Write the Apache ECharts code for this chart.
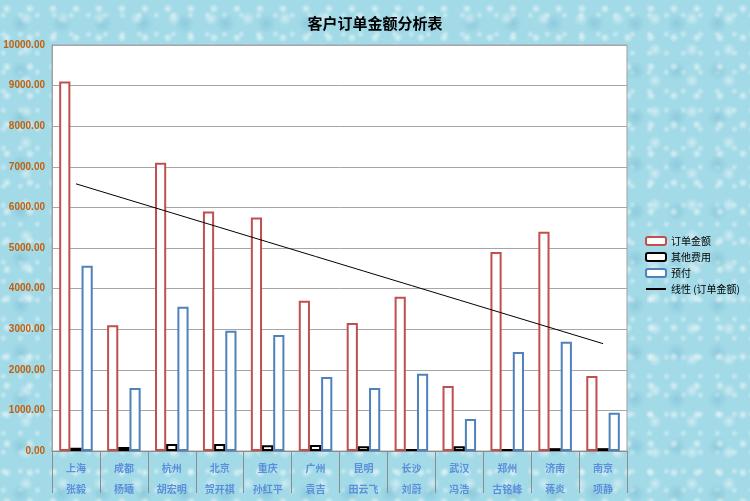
<!DOCTYPE html>
<html>
<head>
<meta charset="utf-8">
<script src="https://cdn.jsdelivr.net/npm/echarts@6/dist/echarts.min.js"></script>
<style>
html,body{margin:0;padding:0;}
body{
  width:750px;height:501px;overflow:hidden;
  background-color:#A3DAE7;
  background-image:
    radial-gradient(circle at 30% 30%, rgba(255,255,255,0.55) 0, rgba(255,255,255,0) 5px),
    radial-gradient(circle at 70% 60%, rgba(255,255,255,0.45) 0, rgba(255,255,255,0) 7px),
    radial-gradient(circle at 50% 50%, rgba(110,180,205,0.4) 0, rgba(110,180,205,0) 10px),
    radial-gradient(circle at 20% 80%, rgba(255,255,255,0.4) 0, rgba(255,255,255,0) 4px);
  background-size:23px 29px, 37px 31px, 41px 47px, 17px 19px;
}
#c{width:750px;height:501px;}
</style>
</head>
<body>
<div id="c"></div>
<script>
var cities = ['上海','成都','杭州','北京','重庆','广州','昆明','长沙','武汉','郑州','济南','南京'];
var names  = ['张毅','杨曦','胡宏明','贺开祺','孙红平','袁吉','田云飞','刘蔚','冯浩','古铭峰','蒋炎','项静'];
var orderAmount = [9100, 3100, 7100, 5900, 5750, 3700, 3150, 3800, 1600, 4900, 5400, 1850];
var otherCost   = [80, 100, 170, 170, 140, 150, 120, 50, 120, 50, 70, 70];
var prepay      = [4560, 1550, 3550, 2960, 2860, 1820, 1550, 1900, 790, 2440, 2690, 940];
var yTicks = {min: 0, max: 10000, interval: 1000};

// linear trendline of order amount (least squares)
var n = orderAmount.length, sx = 0, sy = 0, sxy = 0, sxx = 0;
for (var i = 0; i < n; i++) { var x = i + 1; sx += x; sy += orderAmount[i]; sxy += x * orderAmount[i]; sxx += x * x; }
var slope = (n * sxy - sx * sy) / (n * sxx - sx * sx);
var icpt = (sy - slope * sx) / n;
var trend = orderAmount.map(function (v, i) { return +(icpt + slope * (i + 1)).toFixed(2); });

var cats = cities.map(function (c, i) { return c + '\n' + names[i]; });

var chart = echarts.init(document.getElementById('c'));
chart.setOption({
  backgroundColor: 'transparent',
  animation: false,
  title: {
    text: '客户订单金额分析表',
    left: 'center', top: 11,
    textStyle: {fontFamily: 'Noto Sans CJK SC', fontSize: 15, fontWeight: 'bold', color: '#000'}
  },
  legend: {
    orient: 'vertical',
    left: 640, top: 231,
    itemWidth: 20, itemHeight: 8, itemGap: 6,
    textStyle: {fontFamily: 'Noto Sans CJK SC', fontSize: 10, color: '#000'},
    data: ['订单金额', '其他费用', '预付', {name: '线性 (订单金额)', itemStyle: {opacity: 0}}]
  },
  grid: {
    left: 52, right: 123, top: 45, bottom: 50,
    show: true, backgroundColor: '#fff', borderColor: '#A0A0A0', borderWidth: 1
  },
  xAxis: {
    type: 'category',
    data: cats,
    axisLine: {lineStyle: {color: '#8C8C8C'}},
    axisTick: {show: true, interval: 0, length: 42, lineStyle: {color: '#8C8C8C'}},
    axisLabel: {
      interval: 0, margin: 7, lineHeight: 21,
      fontFamily: 'Noto Sans CJK SC', fontSize: 10, fontWeight: 'bold', color: '#5B8FDA'
    }
  },
  yAxis: {
    type: 'value',
    min: yTicks.min, max: yTicks.max, interval: yTicks.interval,
    axisLine: {show: true, lineStyle: {color: '#A0A0A0'}},
    axisTick: {show: false},
    splitLine: {lineStyle: {color: '#A6A6A6'}},
    axisLabel: {
      margin: 7,
      formatter: function (v) { return v.toFixed(2); },
      fontFamily: 'Liberation Sans', fontSize: 10, fontWeight: 'bold', color: '#C0600E'
    }
  },
  series: [
    {name: '订单金额', type: 'bar', data: orderAmount, barGap: '0%', barCategoryGap: '30%',
     itemStyle: {color: '#fff', borderColor: '#C0504D', borderWidth: 2}},
    {name: '其他费用', type: 'bar', data: otherCost, barGap: '0%', barCategoryGap: '30%',
     itemStyle: {color: '#fff', borderColor: '#000', borderWidth: 2}},
    {name: '预付', type: 'bar', data: prepay, barGap: '0%', barCategoryGap: '30%',
     itemStyle: {color: '#fff', borderColor: '#4F81BD', borderWidth: 2}},
    {name: '线性 (订单金额)', type: 'line', data: trend, symbol: 'none', showSymbol: false,
     lineStyle: {color: '#000', width: 1}, itemStyle: {color: '#000'}, z: 5}
  ]
});
</script>
</body>
</html>
